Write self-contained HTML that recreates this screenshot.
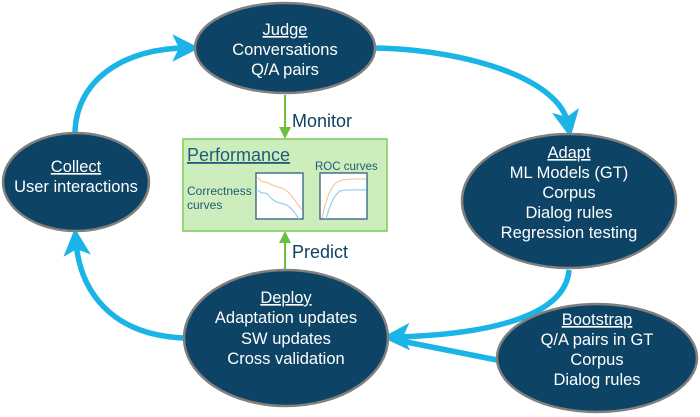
<!DOCTYPE html>
<html><head><style>
body{margin:0;background:#fff;}
svg{display:block;font-family:"Liberation Sans",sans-serif;}
.t{fill:#fff;font-size:16.5px;text-anchor:middle;}
</style></head><body>
<svg width="700" height="417" viewBox="0 0 700 417">
<defs>
<marker id="ab" markerWidth="5" markerHeight="5" refX="2.5" refY="2.5" orient="auto" markerUnits="strokeWidth">
<path d="M0,0 L5,2.5 L0,5 L1.2,2.5 Z" fill="#1ab4e6"/></marker>
<marker id="ag" markerWidth="6" markerHeight="6" refX="5" refY="3" orient="auto" markerUnits="strokeWidth">
<path d="M0,0 L6,3 L0,6 Z" fill="#6cc040"/></marker>
</defs>
<g fill="none" stroke="#1ab4e6" stroke-width="5.5">
<path d="M75,134 C 75,80 125,48 186,48" marker-end="url(#ab)"/>
<path d="M376,48 C 470,50 560,80 568,124" marker-end="url(#ab)"/>
<path d="M569,270 C 565,322 470,335 396,337" marker-end="url(#ab)"/>
<path d="M497,360 L396,340" />
<path d="M184,338 C 110,335 80,290 76,242" marker-end="url(#ab)"/>
</g>
<g stroke="#6cc040" stroke-width="2" fill="none">
<path d="M285,95 L285,137" marker-end="url(#ag)"/>
<path d="M285,270 L285,233" marker-end="url(#ag)"/>
</g>
<text x="292" y="127" font-size="18" fill="#0d3f5e">Monitor</text>
<text x="292" y="258" font-size="18" fill="#0d3f5e">Predict</text>
<rect x="183" y="139" width="204" height="92" fill="#cdeebc" stroke="#7ccc55" stroke-width="1.5"/>
<text x="187" y="161" font-size="18" fill="#1e5a7a" text-decoration="underline">Performance</text>
<text x="315" y="170" font-size="11.5" fill="#1e5a7a">ROC curves</text>
<text x="187" y="195" font-size="12" fill="#1e5a7a">Correctness</text>
<text x="187" y="209" font-size="12" fill="#1e5a7a">curves</text>
<rect x="256" y="173" width="47" height="46" fill="#fff" stroke="#2d5f7f" stroke-width="1.3"/>
<rect x="320" y="173" width="47" height="46" fill="#fff" stroke="#2d5f7f" stroke-width="1.3"/>
<path d="M258,177 C262,185 266,180 270,184 C276,188 282,186 288,192 C294,198 298,205 302,210" fill="none" stroke="#f3c99a" stroke-width="1.2"/>
<path d="M258,190 C262,196 266,190 270,197 C276,204 282,202 288,206 C294,210 296,215 299,219" fill="none" stroke="#8fd1ef" stroke-width="1.2"/>
<path d="M322,218 C326,200 330,188 336,183 C342,178 356,179 366,179" fill="none" stroke="#f3c99a" stroke-width="1.2"/>
<path d="M326,219 C330,205 334,195 340,191 C346,189 356,190 366,190" fill="none" stroke="#8fd1ef" stroke-width="1.2"/>
<g fill="#0d4466" stroke="#808080" stroke-width="2.5">
<ellipse cx="285" cy="48" rx="90" ry="45"/>
<ellipse cx="76" cy="182" rx="73" ry="49"/>
<ellipse cx="569" cy="201" rx="107" ry="67"/>
<ellipse cx="286" cy="338" rx="102" ry="68"/>
<ellipse cx="597" cy="358" rx="100" ry="54"/>
</g>
<text class="t" x="285" y="35" text-decoration="underline">Judge</text>
<text class="t" x="285" y="55">Conversations</text>
<text class="t" x="285" y="75">Q/A pairs</text>
<text class="t" x="76" y="172" text-decoration="underline">Collect</text>
<text class="t" x="76" y="192">User interactions</text>
<text class="t" x="569" y="158" text-decoration="underline">Adapt</text>
<text class="t" x="569" y="178">ML Models (GT)</text>
<text class="t" x="569" y="198">Corpus</text>
<text class="t" x="569" y="218">Dialog rules</text>
<text class="t" x="569" y="238">Regression testing</text>
<text class="t" x="286" y="303" text-decoration="underline">Deploy</text>
<text class="t" x="286" y="323">Adaptation updates</text>
<text class="t" x="286" y="344">SW updates</text>
<text class="t" x="286" y="364">Cross validation</text>
<text class="t" x="597" y="325" text-decoration="underline">Bootstrap</text>
<text class="t" x="597" y="345">Q/A pairs in GT</text>
<text class="t" x="597" y="365">Corpus</text>
<text class="t" x="597" y="385">Dialog rules</text>
</svg>
</body></html>
